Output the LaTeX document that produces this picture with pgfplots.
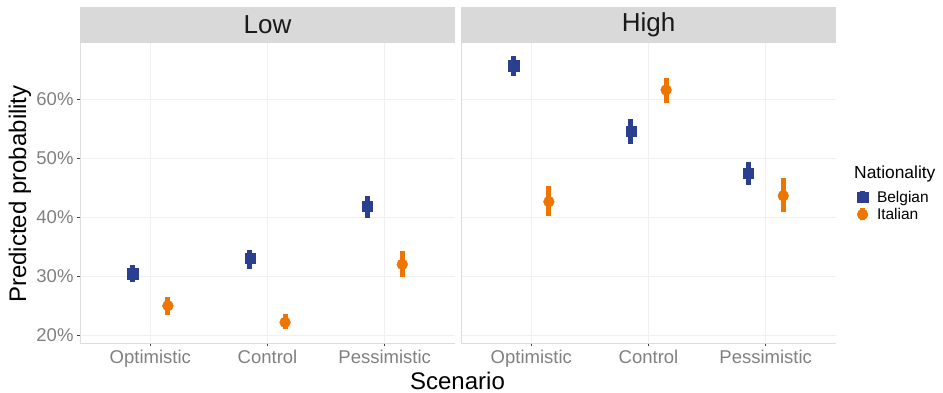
\documentclass[border=0pt]{standalone}
\usepackage{pgfplots}
\pgfplotsset{compat=1.18}
\usepackage{pgfplotstable}
\usepackage{fontspec}
\setmainfont{Liberation Sans}

\definecolor{belgian}{HTML}{2A3F8F}
\definecolor{italian}{HTML}{EE7600}
\definecolor{ticktext}{HTML}{808080}
\definecolor{gridc}{HTML}{F0F0F0}
\definecolor{stripc}{HTML}{D9D9D9}
\definecolor{framec}{HTML}{DDDDDD}

% x: 1 = Optimistic, 2 = Control, 3 = Pessimistic (dodged by +-0.15)
\pgfplotstableread{
x     y     ep   em
0.85  30.4  1.5  1.4
1.85  33.0  1.5  1.7
2.85  41.8  1.7  1.9
}\lowbel
\pgfplotstableread{
x     y     ep   em
1.15  25.0  1.5  1.5
2.15  22.2  1.4  1.2
3.15  32.0  2.2  2.2
}\lowita
\pgfplotstableread{
x     y     ep   em
0.85  65.6  1.7  1.8
1.85  54.5  2.1  2.1
2.85  47.4  1.9  2.0
}\highbel
\pgfplotstableread{
x     y     ep   em
1.15  42.6  2.6  2.4
2.15  61.5  2.1  2.2
3.15  43.6  3.0  2.8
}\highita

\pgfplotsset{
  facet/.style={
    scale only axis, width=375pt, height=300.3pt,
    xmin=0.4, xmax=3.6, ymin=18.7, ymax=69.5,
    xtick={1,2,3}, xticklabels={Optimistic,Control,Pessimistic},
    ytick={20,30,40,50,60},
    grid=major, grid style={gridc, line width=0.6pt},
    axis lines*=left, axis line style={framec, line width=0.8pt},
    tick style={black!75, line width=0.6pt},
    major tick length=3pt, tick align=outside,
    xtick pos=bottom, ytick pos=left,
    tick label style={font=\fontsize{18.5}{20}\selectfont, text=ticktext},
    /pgf/number format/assume math mode=true,
    xticklabel style={yshift=-1pt},
    clip=false,
    error bars/error bar style={line width=5pt},
    error bars/error mark=none,
    legend image code/.code={
      \draw[##1, line width=4.5pt] (0pt,-6pt) -- (0pt,6pt);
      \draw[##1, only marks] plot coordinates {(0pt,0pt)};
    },
  },
  belst/.style={only marks, color=belgian, mark=square*, mark size=5.2pt,
    mark options={fill=belgian, draw=belgian},
    error bars/.cd, y dir=both, y explicit},
  itast/.style={only marks, color=italian, mark=*, mark size=5.4pt,
    mark options={fill=italian, draw=italian},
    error bars/.cd, y dir=both, y explicit},
}

\begin{document}
\begin{tikzpicture}
\path[use as bounding box] (0pt,0pt) rectangle (943pt,393pt);

% Low facet
\begin{axis}[facet, at={(80pt,50pt)}, anchor=south west,
  yticklabel={\pgfmathprintnumber{\tick}\%}]
  \fill[stripc] (rel axis cs:0,1) rectangle ([yshift=35.7pt]rel axis cs:1,1);
  \node[font=\fontsize{26}{28}\selectfont, text=black!90]
    at ([yshift=17.8pt]rel axis cs:0.5,1) {Low};
  \addplot+[belst] table[x=x, y=y, y error plus=ep, y error minus=em] {\lowbel};
  \addplot+[itast] table[x=x, y=y, y error plus=ep, y error minus=em] {\lowita};
\end{axis}

% High facet
\begin{axis}[facet, at={(461pt,50pt)}, anchor=south west,
  yticklabels={}, ytick style={draw=none},
  legend style={at={(1.056,0.514)}, anchor=north west, draw=none, fill=none,
    font=\fontsize{15.5}{17}\selectfont, inner sep=0pt,
    row sep=0.5pt, /tikz/every odd column/.append style={column sep=7pt}},
  legend cell align=left]
  \fill[stripc] (rel axis cs:0,1) rectangle ([yshift=35.7pt]rel axis cs:1,1);
  \node[font=\fontsize{26}{28}\selectfont, text=black!90]
    at ([yshift=17.8pt]rel axis cs:0.5,1) {High};
  \addplot+[belst] table[x=x, y=y, y error plus=ep, y error minus=em] {\highbel};
  \addplot+[itast] table[x=x, y=y, y error plus=ep, y error minus=em] {\highita};
  \legend{Belgian, Italian}
\end{axis}

% legend title and shared axis titles
\node[anchor=west, font=\fontsize{17.4}{19}\selectfont, inner sep=0pt]
  at (854pt,219pt) {Nationality};
\node[font=\fontsize{24}{26}\selectfont] at (457.5pt,12pt) {Scenario};
\node[font=\fontsize{24}{26}\selectfont, rotate=90] at (20pt,199pt) {Predicted probability};
\end{tikzpicture}
\end{document}
